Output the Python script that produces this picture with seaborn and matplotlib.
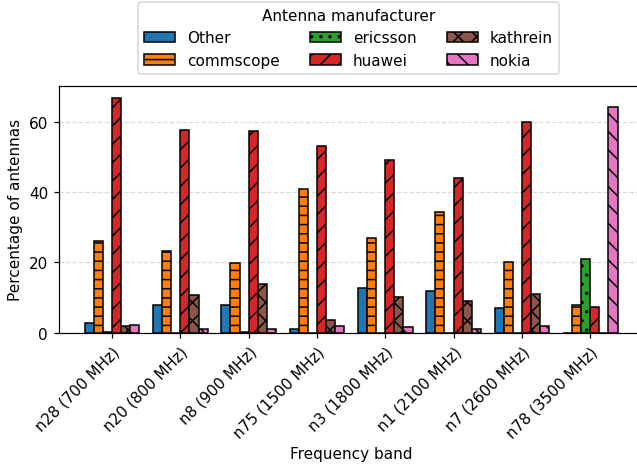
import numpy as np
import pandas as pd
import matplotlib as mpl
mpl.use('Agg')
import matplotlib.pyplot as plt
import seaborn as sns

# Data
bands = ['n28 (700 MHz)', 'n20 (800 MHz)', 'n8 (900 MHz)', 'n75 (1500 MHz)',
         'n3 (1800 MHz)', 'n1 (2100 MHz)', 'n7 (2600 MHz)', 'n78 (3500 MHz)']
makers = ['Other', 'commscope', 'ericsson', 'huawei', 'kathrein', 'nokia']
other = [2.8, 7.8, 7.8, 1.0, 12.6, 11.9, 7.1, 0.0]
commscope = [26.0, 23.1, 19.9, 40.8, 26.8, 34.2, 20.1, 7.8]
ericsson = [0.3, 0.0, 0.2, 0.0, 0.0, 0.0, 0.0, 20.9]
huawei = [66.7, 57.5, 57.3, 53.0, 49.2, 43.9, 59.8, 7.2]
kathrein = [1.9, 10.6, 13.8, 3.5, 10.1, 9.1, 10.9, 0.0]
nokia = [2.1, 1.0, 1.0, 1.8, 1.6, 1.0, 1.8, 64.0]

series = [other, commscope, ericsson, huawei, kathrein, nokia]
hatches = ['', '--', '..', '//', 'xx', '\\\\']
tab = sns.color_palette('tab10')
colors = [tab[0], tab[1], tab[2], tab[3], tab[5], tab[6]]

rows = []
for m, vals in zip(makers, series):
    for b, v in zip(bands, vals):
        rows.append({'band': b, 'maker': m, 'pct': v})
df = pd.DataFrame(rows)

dpi = 110
fig = plt.figure(figsize=(637 / dpi, 467 / dpi), dpi=dpi)
ax = fig.add_axes([0.0922, 0.2854, 0.918, 0.529])

sns.barplot(data=df, x='band', y='pct', hue='maker', hue_order=makers,
            order=bands, palette=colors, edgecolor='black', linewidth=1,
            saturation=1, legend=False, ax=ax)

# hatch each manufacturer's bars
for cont, h in zip(ax.containers, hatches):
    for p in cont:
        p.set_hatch(h)

ax.set_xlim(-0.78, 7.78)
ax.set_ylim(0, 70.2)
ax.yaxis.set_major_locator(mpl.ticker.MultipleLocator(20))
ax.yaxis.grid(True, linestyle='--', color='lightgray', alpha=0.8)
ax.set_axisbelow(True)
ax.set_xlabel('Frequency band')
ax.set_ylabel('Percentage of antennas')
plt.setp(ax.get_xticklabels(), rotation=45, ha='right', rotation_mode='anchor')

fig.legend(ax.containers, makers, title='Antenna manufacturer', ncol=3,
           loc='upper center', bbox_to_anchor=(0.547, 1.011))

plt.savefig('out.png', dpi=dpi)
